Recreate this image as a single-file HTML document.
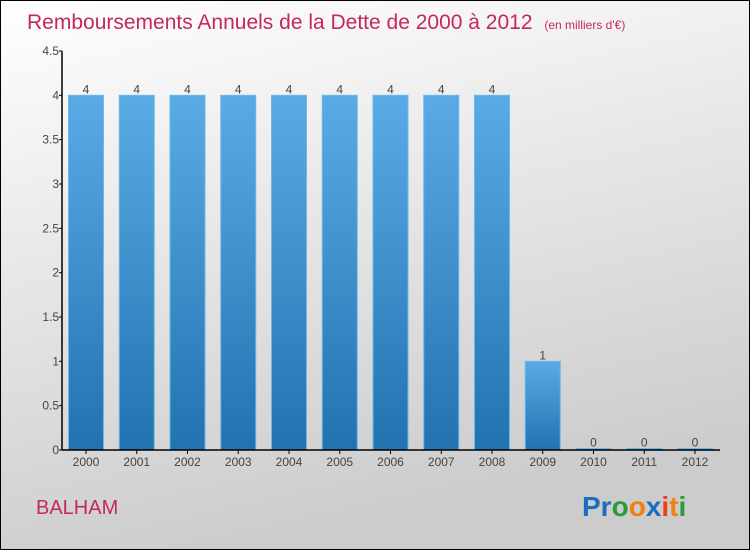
<!DOCTYPE html>
<html><head><meta charset="utf-8"><style>
body{margin:0}
svg{display:block;font-family:"Liberation Sans",sans-serif}
</style></head><body>
<svg id="c" width="750" height="550" viewBox="0 0 750 550">
<defs>
<linearGradient id="bg" x1="0" y1="0" x2="0.3" y2="1"><stop offset="0" stop-color="#ffffff"/><stop offset="1" stop-color="#cccccc"/></linearGradient>
<linearGradient id="bar" x1="0" y1="0" x2="0" y2="1"><stop offset="0" stop-color="#5aabe5"/><stop offset="1" stop-color="#2272b0"/></linearGradient>
</defs>
<rect x="0.5" y="0.5" width="749" height="549" fill="url(#bg)" stroke="#000"/>
<text x="27" y="29" font-size="21" fill="#c4285d">Remboursements Annuels de la Dette de 2000 à 2012 <tspan font-size="12" dx="6">(en milliers d'€)</tspan></text>
<g id="plot"></g>
<text x="36" y="514" font-size="20" fill="#c4285d">BALHAM</text>
<text x="582" y="516" font-size="28" font-weight="bold"><tspan fill="#1a6fc0">Pr</tspan><tspan fill="#2a9a3a">o</tspan><tspan fill="#f08010">o</tspan><tspan fill="#1a6fc0">x</tspan><tspan fill="#f04010">i</tspan><tspan fill="#f08010">t</tspan><tspan fill="#2a9a3a">i</tspan></text>
</svg>
<script>
const categories=["2000","2001","2002","2003","2004","2005","2006","2007","2008","2009","2010","2011","2012"];
const values=[4,4,4,4,4,4,4,4,4,1,0,0,0];
const yTicks=[0,0.5,1,1.5,2,2.5,3,3.5,4,4.5];
const NS="http://www.w3.org/2000/svg";
const g=document.getElementById('plot');
const x0=62,x1=720,y0=450,yTop=51,maxV=4.5;
const y=v=>y0-(y0-yTop)*v/maxV;
const step=50.75,first=86,bw=35;
const xc=i=>first+i*step;
function mk(t,a,txt){const e=document.createElementNS(NS,t);for(const k in a)e.setAttribute(k,a[k]);if(txt!==undefined)e.textContent=txt;g.appendChild(e);return e;}
values.forEach((v,i)=>{
 const h=Math.max(y0-y(v),1.5);
 const r=mk('rect',{x:xc(i)-bw/2,y:y0-h,width:bw,height:h,fill:'url(#bar)',stroke:'#6ab8ee','stroke-width':1});
 
 
 const l=mk('text',{x:xc(i),y:y0-h-2,'font-size':12,fill:'#444','text-anchor':'middle'},String(v));
 
 
 const c=mk('text',{x:xc(i),y:y0+16,'font-size':12,fill:'#444','text-anchor':'middle'},categories[i]);
 
 
 const tk=mk('line',{x1:xc(i),x2:xc(i),y1:y0,y2:y0+4,stroke:'#000'});
 
 
});
yTicks.forEach(v=>{
 const t=mk('text',{x:x0-3,y:y(v)+4,'font-size':12,fill:'#444','text-anchor':'end'},String(v));
 
 
 const tk=mk('line',{x1:x0-3,x2:x0,y1:y(v),y2:y(v),stroke:'#000'});
 
 
});
const ya=mk('line',{x1:x0,x2:x0,y1:yTop,y2:y0,stroke:'#000','stroke-width':1.5});


const xa=mk('line',{x1:x0,x2:x1,y1:y0,y2:y0,stroke:'#000','stroke-width':1.5});


</script>
</body></html>
